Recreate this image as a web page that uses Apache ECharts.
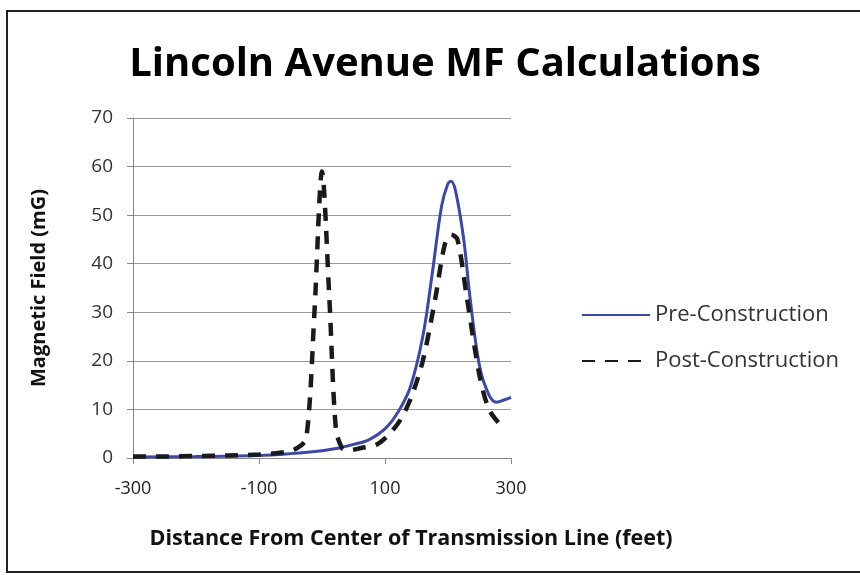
<!DOCTYPE html>
<html>
<head>
<meta charset="utf-8">
<script src="https://cdn.jsdelivr.net/npm/echarts@6/dist/echarts.min.js"></script>
<style>
  html, body { margin: 0; padding: 0; background: #fff; }
  #chart { width: 860px; height: 575px; }
</style>
</head>
<body>
<div id="chart"></div>
<script>
// values: [distance (feet), field (mG)]
var preConstruction = [
  [-300, 0.2], [-200, 0.3], [-100, 0.5], [-50, 0.9], [0, 1.5], [25, 2],
  [50, 2.8], [75, 3.8], [100, 6], [120, 9.3], [140, 14.5], [160, 25],
  [175, 38], [190, 52], [200, 56.5], [205, 57], [212, 55], [225, 45],
  [235, 33], [250, 19], [265, 13], [277, 11.5], [290, 12], [300, 12.5]
];
var postConstruction = [
  [-300, 0.3], [-250, 0.3], [-200, 0.4], [-150, 0.5], [-100, 0.7],
  [-60, 1.2], [-40, 2], [-25, 4], [-12, 30], [0, 59], [12, 32], [22, 6],
  [32, 2], [42, 1.6], [60, 2], [90, 3], [120, 7], [140, 12], [160, 20],
  [180, 33], [195, 44], [205, 46], [215, 45], [230, 33], [250, 17],
  [265, 10], [282, 7]
];
var seriesNames = ['Pre-Construction', 'Post-Construction'];

var font = '"Open Sans", Lato, sans-serif';

var chart = echarts.init(document.getElementById('chart'));
chart.setOption({
  animation: false,
  textStyle: { fontFamily: font },
  title: {
    text: 'Lincoln Avenue MF Calculations',
    left: 440,
    textAlign: 'center',
    top: 40,
    textStyle: { fontSize: 40, fontWeight: 'bold', color: '#000', fontFamily: font }
  },
  graphic: [{
    type: 'rect',
    shape: { x: 7, y: 11, width: 900, height: 561 },
    style: { fill: null, stroke: '#222', lineWidth: 2 },
    silent: true
  }],
  legend: {
    orient: 'vertical',
    left: 576,
    top: 299,
    itemGap: 24,
    itemWidth: 68,
    itemHeight: 14,
    itemStyle: { opacity: 0 },
    textStyle: { fontSize: 22, color: '#333', fontFamily: font },
    data: seriesNames
  },
  grid: { left: 133, right: 349, top: 118, bottom: 117 },
  xAxis: {
    type: 'value',
    min: -300,
    max: 300,
    interval: 200,
    name: 'Distance From Center of Transmission Line (feet)',
    nameLocation: 'middle',
    nameGap: 70,
    nameTextStyle: {
      fontSize: 21.5, fontWeight: 'bold', color: '#111', fontFamily: font,
      padding: [0, 0, 0, 178]
    },
    axisLine: { lineStyle: { color: '#888' } },
    axisTick: { show: true, length: 6, lineStyle: { color: '#888' } },
    axisLabel: { fontSize: 18, color: '#222', margin: 22 },
    splitLine: { show: false }
  },
  yAxis: {
    type: 'value',
    min: 0,
    max: 70,
    interval: 10,
    name: 'Magnetic Field (mG)',
    nameLocation: 'middle',
    nameGap: 84,
    nameTextStyle: { fontSize: 20, fontWeight: 'bold', color: '#111', fontFamily: font },
    axisLine: { show: true, onZero: false, lineStyle: { color: '#888' } },
    axisTick: { show: true, length: 6, lineStyle: { color: '#888' } },
    axisLabel: { fontSize: 19, color: '#333', margin: 20 },
    splitLine: { lineStyle: { color: '#999', width: 1.2 } }
  },
  series: [
    {
      name: seriesNames[0],
      type: 'line',
      data: preConstruction,
      smooth: 0.35,
      showSymbol: false,
      symbol: 'none',
      itemStyle: { color: '#3b48a8' },
      lineStyle: { color: '#3b48a8', width: 3 },
      z: 2
    },
    {
      name: seriesNames[1],
      type: 'line',
      data: postConstruction,
      smooth: 0.3,
      showSymbol: false,
      symbol: 'none',
      itemStyle: { color: '#1a1a1a' },
      lineStyle: { color: '#1a1a1a', width: 4.5, type: [13, 10] },
      z: 3
    }
  ]
});
</script>
</body>
</html>
